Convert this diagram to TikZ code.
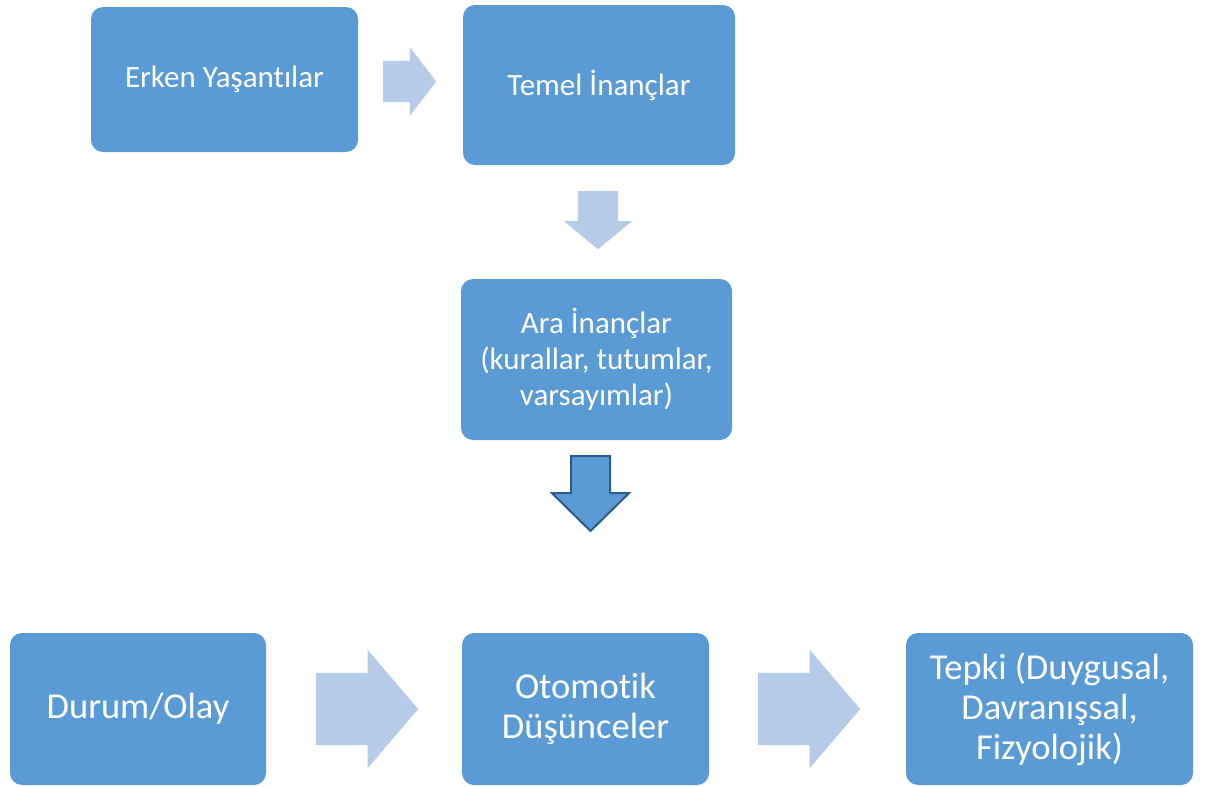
\documentclass[tikz,border=0pt]{standalone}
\usepackage{fontspec}
\setmainfont[Ligatures=NoCommon]{Carlito}
\usetikzlibrary{shapes.arrows}
\definecolor{boxblue}{HTML}{5B9BD5}
\definecolor{arrowlight}{HTML}{B6CBE8}
\definecolor{arrowedge}{HTML}{2E5C8A}
\tikzset{
  box/.style={rectangle, rounded corners=12pt, fill=boxblue, text=white, align=center, inner sep=0pt},
  smalltext/.style={font=\fontsize{31}{36}\selectfont},
  bigtext/.style={font=\fontsize{36.5}{40}\selectfont},
  blockarrow/.style={single arrow, inner sep=0pt, minimum width=0pt, single arrow head indent=0pt, fill=arrowlight, anchor=tail},
}

\begin{document}
\begin{tikzpicture}[x=1pt,y=-1pt]
\useasboundingbox (0,0) rectangle (1208,787);

% upper row
\node[box, smalltext, minimum width=267pt, minimum height=145pt](E) at (224.5,79.5) {Erken Yaşantılar};
\node[box, smalltext, minimum width=272pt, minimum height=160pt](T) at (599,85) {Temel İnançlar};
\node[box, smalltext, minimum width=271pt, minimum height=161pt](A) at (596.5,359.5) {Ara İnançlar\\(kurallar, tutumlar,\\varsayımlar)};

% lower row
\node[box, bigtext, minimum width=256pt, minimum height=152pt](D) at (138,709) {Durum/Olay};
\node[box, bigtext, minimum width=247pt, minimum height=152pt](O) at (585.5,709) {Otomotik\\Düşünceler};
\node[box, bigtext, minimum width=287pt, minimum height=152pt](R) at (1049.5,709) {Tepki (Duygusal,\\Davranışsal,\\Fizyolojik)};

% block arrows
\node[blockarrow, inner ysep=20.5pt, single arrow head extend=13.5pt, single arrow tip angle=105, minimum height=53pt](ET) at (383,81.5) {};
\node[blockarrow, rotate=-90, inner ysep=20pt, single arrow head extend=14pt, single arrow tip angle=101, minimum height=58pt](TA) at (598,191) {};
\node[blockarrow, rotate=-90, fill=boxblue, draw=arrowedge, line width=2pt, inner ysep=18.5pt, single arrow head extend=19pt, single arrow tip angle=91, minimum height=75pt](AO) at (590.5,455) {};
\node[blockarrow, inner ysep=36pt, single arrow head extend=23pt, single arrow tip angle=99, minimum height=102pt](DO) at (316,709) {};
\node[blockarrow, inner ysep=36pt, single arrow head extend=23pt, single arrow tip angle=99, minimum height=102pt](OR) at (758,709) {};

\end{tikzpicture}
\end{document}
